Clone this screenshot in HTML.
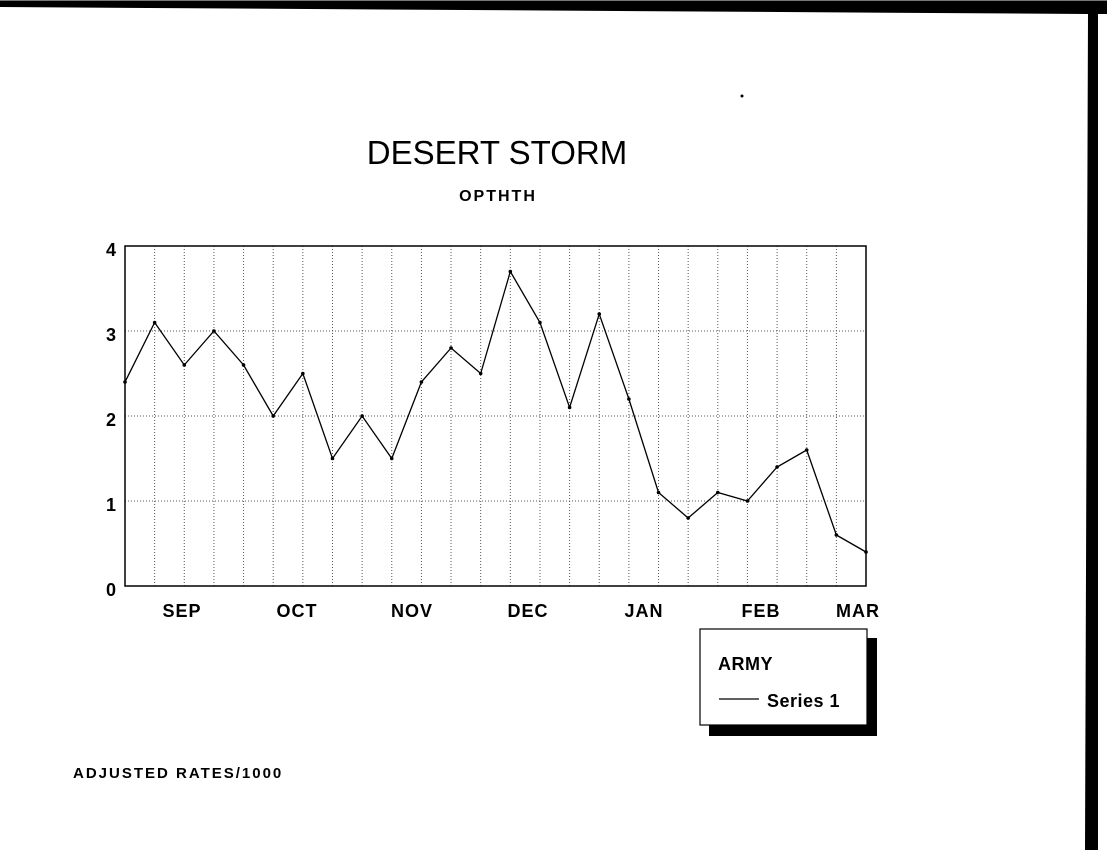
<!DOCTYPE html>
<html><head><style>
body{margin:0;width:1107px;height:850px;background:#fff;overflow:hidden;position:relative;font-family:"Liberation Sans",sans-serif}
</style></head><body>
<svg width="1107" height="850" style="position:absolute;left:0;top:0" font-family="Liberation Sans, sans-serif">
<polygon points="0,0 1107,0 1107,14 1098,14 1098,850 1085,850 1088,14 0,7" fill="#000"/>
<rect x="0" y="0" width="1107" height="1" fill="#777"/>
<text x="497" y="164" font-size="33" text-anchor="middle">DESERT STORM</text>
<text x="498" y="201" font-size="16" font-weight="bold" text-anchor="middle" letter-spacing="2">OPTHTH</text>
<g stroke="#555" stroke-width="1" stroke-dasharray="1,2">
<line x1="125" y1="331" x2="866" y2="331"/><line x1="125" y1="416" x2="866" y2="416"/><line x1="125" y1="501" x2="866" y2="501"/>
</g>
<g id="vg" stroke="#555" stroke-width="1" stroke-dasharray="1,2"></g>
<rect x="125" y="246" width="741" height="340" fill="none" stroke="#000" stroke-width="1.5"/>
<g font-size="18" font-weight="bold" text-anchor="end">
<text x="116" y="256">4</text><text x="116" y="341">3</text><text x="116" y="426">2</text><text x="116" y="511">1</text><text x="116" y="596">0</text>
</g>
<g font-size="18" font-weight="bold" text-anchor="middle" letter-spacing="1">
<text x="182" y="617">SEP</text><text x="297" y="617">OCT</text><text x="412" y="617">NOV</text><text x="528" y="617">DEC</text><text x="644" y="617">JAN</text><text x="761" y="617">FEB</text><text x="858" y="617">MAR</text>
</g>
<polyline id="ln" fill="none" stroke="#000" stroke-width="1.3"/>
<g id="pts"></g>
<rect x="709" y="638" width="168" height="98" fill="#000"/>
<rect x="700" y="629" width="167" height="96" fill="#fff" stroke="#000" stroke-width="1.2"/>
<text x="718" y="670" font-size="18" font-weight="bold" letter-spacing="0.5">ARMY</text>
<line x1="719" y1="699" x2="759" y2="699" stroke="#000" stroke-width="1.3"/>
<text x="767" y="707" font-size="18" font-weight="bold" letter-spacing="0.5">Series 1</text>
<text x="73" y="778" font-size="15" font-weight="bold" letter-spacing="2">ADJUSTED RATES/1000</text>
<circle cx="742" cy="96" r="1.5" fill="#000"/>
</svg>
<script>
var v=[2.4,3.1,2.6,3.0,2.6,2.0,2.5,1.5,2.0,1.5,2.4,2.8,2.5,3.7,3.1,2.1,3.2,2.2,1.1,0.8,1.1,1.0,1.4,1.6,0.6,0.4];
var p=[],g='',d='';
for(var i=0;i<v.length;i++){var x=125+i*741/25,y=586-v[i]*85;p.push(x+','+y);
if(i>0&&i<25)g+='<line x1="'+x+'" y1="246" x2="'+x+'" y2="586"/>';
d+='<circle cx="'+x+'" cy="'+y+'" r="1.8"/>';}
document.getElementById('ln').setAttribute('points',p.join(' '));
document.getElementById('vg').innerHTML=g;document.getElementById('pts').innerHTML=d;
</script>
</body></html>
